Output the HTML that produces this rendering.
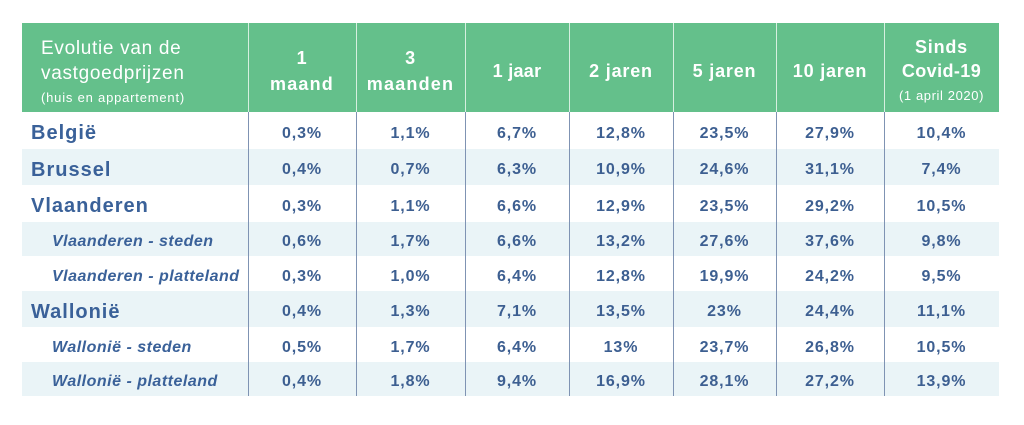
<!DOCTYPE html>
<html>
<head>
<meta charset="utf-8">
<style>
  html,body{margin:0;padding:0;background:#ffffff;}
  body{width:1024px;height:425px;position:relative;overflow:hidden;font-family:"Liberation Sans",Arial,sans-serif;}
  .hdr{position:absolute;left:22px;top:23px;width:977px;height:89px;background:#64c08b;}
  .ht{position:absolute;color:#ffffff;white-space:nowrap;line-height:1;}
  .hb{font-weight:bold;font-size:18px;letter-spacing:0.8px;text-align:center;}
  .row{position:absolute;left:22px;width:977px;display:flex;}
  .stripe{background:#eaf4f7;}
  .c{flex:none;text-align:center;font-weight:bold;font-size:16px;letter-spacing:0.9px;color:#3d5f91;box-sizing:border-box;padding-top:3px;}
  .lab{flex:none;width:226px;box-sizing:border-box;color:#3a6199;font-weight:bold;white-space:nowrap;padding-top:3px;}
  .main{font-size:20px;letter-spacing:1px;padding-left:9px;}
  .sub{font-size:16px;font-style:italic;letter-spacing:0.5px;padding-left:30px;}
  .w1{width:108px}.w2{width:109px}.w3{width:104px}.w4{width:104px}.w5{width:103px}.w6{width:108px}.w7{width:115px}
  .vl{position:absolute;width:1px;top:112px;height:284px;background:#7f93b3;}
  .hl{position:absolute;width:1px;top:23px;height:89px;background:#d6efe0;}
</style>
</head>
<body>
<div class="hdr"></div>
<!-- header text -->
<div class="ht" style="left:41px;top:39px;font-size:19px;letter-spacing:0.7px;">Evolutie van de</div>
<div class="ht" style="left:41px;top:64px;font-size:19px;letter-spacing:0.7px;">vastgoedprijzen</div>
<div class="ht" style="left:41px;top:91px;font-size:13px;letter-spacing:0.8px;">(huis en appartement)</div>

<div class="ht hb" style="left:248px;width:108px;top:49px;">1</div>
<div class="ht hb" style="left:248px;width:108px;top:75px;letter-spacing:1.2px;">maand</div>
<div class="ht hb" style="left:356px;width:109px;top:49px;">3</div>
<div class="ht hb" style="left:356px;width:109px;top:75px;letter-spacing:1.2px;">maanden</div>
<div class="ht hb" style="left:465px;width:104px;top:62px;letter-spacing:0.3px;">1 jaar</div>
<div class="ht hb" style="left:569px;width:104px;top:62px;">2 jaren</div>
<div class="ht hb" style="left:673px;width:103px;top:62px;">5 jaren</div>
<div class="ht hb" style="left:776px;width:108px;top:62px;">10 jaren</div>
<div class="ht hb" style="left:884px;width:115px;top:38px;">Sinds</div>
<div class="ht hb" style="left:884px;width:115px;top:62px;letter-spacing:0.4px;">Covid-19</div>
<div class="ht" style="left:884px;width:115px;top:89px;font-size:13px;letter-spacing:0.6px;text-align:center;">(1 april 2020)</div>

<!-- body rows -->
<div class="row" style="top:112px;height:37px;line-height:37px;">
  <div class="lab main">België</div>
  <div class="c w1">0,3%</div><div class="c w2">1,1%</div><div class="c w3">6,7%</div><div class="c w4">12,8%</div><div class="c w5">23,5%</div><div class="c w6">27,9%</div><div class="c w7">10,4%</div>
</div>
<div class="row stripe" style="top:149px;height:36px;line-height:36px;">
  <div class="lab main">Brussel</div>
  <div class="c w1">0,4%</div><div class="c w2">0,7%</div><div class="c w3">6,3%</div><div class="c w4">10,9%</div><div class="c w5">24,6%</div><div class="c w6">31,1%</div><div class="c w7">7,4%</div>
</div>
<div class="row" style="top:185px;height:37px;line-height:37px;">
  <div class="lab main">Vlaanderen</div>
  <div class="c w1">0,3%</div><div class="c w2">1,1%</div><div class="c w3">6,6%</div><div class="c w4">12,9%</div><div class="c w5">23,5%</div><div class="c w6">29,2%</div><div class="c w7">10,5%</div>
</div>
<div class="row stripe" style="top:222px;height:34px;line-height:34px;">
  <div class="lab sub">Vlaanderen - steden</div>
  <div class="c w1">0,6%</div><div class="c w2">1,7%</div><div class="c w3">6,6%</div><div class="c w4">13,2%</div><div class="c w5">27,6%</div><div class="c w6">37,6%</div><div class="c w7">9,8%</div>
</div>
<div class="row" style="top:256px;height:35px;line-height:35px;">
  <div class="lab sub">Vlaanderen - platteland</div>
  <div class="c w1">0,3%</div><div class="c w2">1,0%</div><div class="c w3">6,4%</div><div class="c w4">12,8%</div><div class="c w5">19,9%</div><div class="c w6">24,2%</div><div class="c w7">9,5%</div>
</div>
<div class="row stripe" style="top:291px;height:36px;line-height:36px;">
  <div class="lab main">Wallonië</div>
  <div class="c w1">0,4%</div><div class="c w2">1,3%</div><div class="c w3">7,1%</div><div class="c w4">13,5%</div><div class="c w5">23%</div><div class="c w6">24,4%</div><div class="c w7">11,1%</div>
</div>
<div class="row" style="top:327px;height:35px;line-height:35px;">
  <div class="lab sub">Wallonië - steden</div>
  <div class="c w1">0,5%</div><div class="c w2">1,7%</div><div class="c w3">6,4%</div><div class="c w4">13%</div><div class="c w5">23,7%</div><div class="c w6">26,8%</div><div class="c w7">10,5%</div>
</div>
<div class="row stripe" style="top:362px;height:34px;line-height:34px;">
  <div class="lab sub">Wallonië - platteland</div>
  <div class="c w1">0,4%</div><div class="c w2">1,8%</div><div class="c w3">9,4%</div><div class="c w4">16,9%</div><div class="c w5">28,1%</div><div class="c w6">27,2%</div><div class="c w7">13,9%</div>
</div>

<!-- header dividers -->
<div class="hl" style="left:248px"></div>
<div class="hl" style="left:356px"></div>
<div class="hl" style="left:465px"></div>
<div class="hl" style="left:569px"></div>
<div class="hl" style="left:673px"></div>
<div class="hl" style="left:776px"></div>
<div class="hl" style="left:884px"></div>
<!-- body dividers -->
<div class="vl" style="left:248px"></div>
<div class="vl" style="left:356px"></div>
<div class="vl" style="left:465px"></div>
<div class="vl" style="left:569px"></div>
<div class="vl" style="left:673px"></div>
<div class="vl" style="left:776px"></div>
<div class="vl" style="left:884px"></div>
</body>
</html>
